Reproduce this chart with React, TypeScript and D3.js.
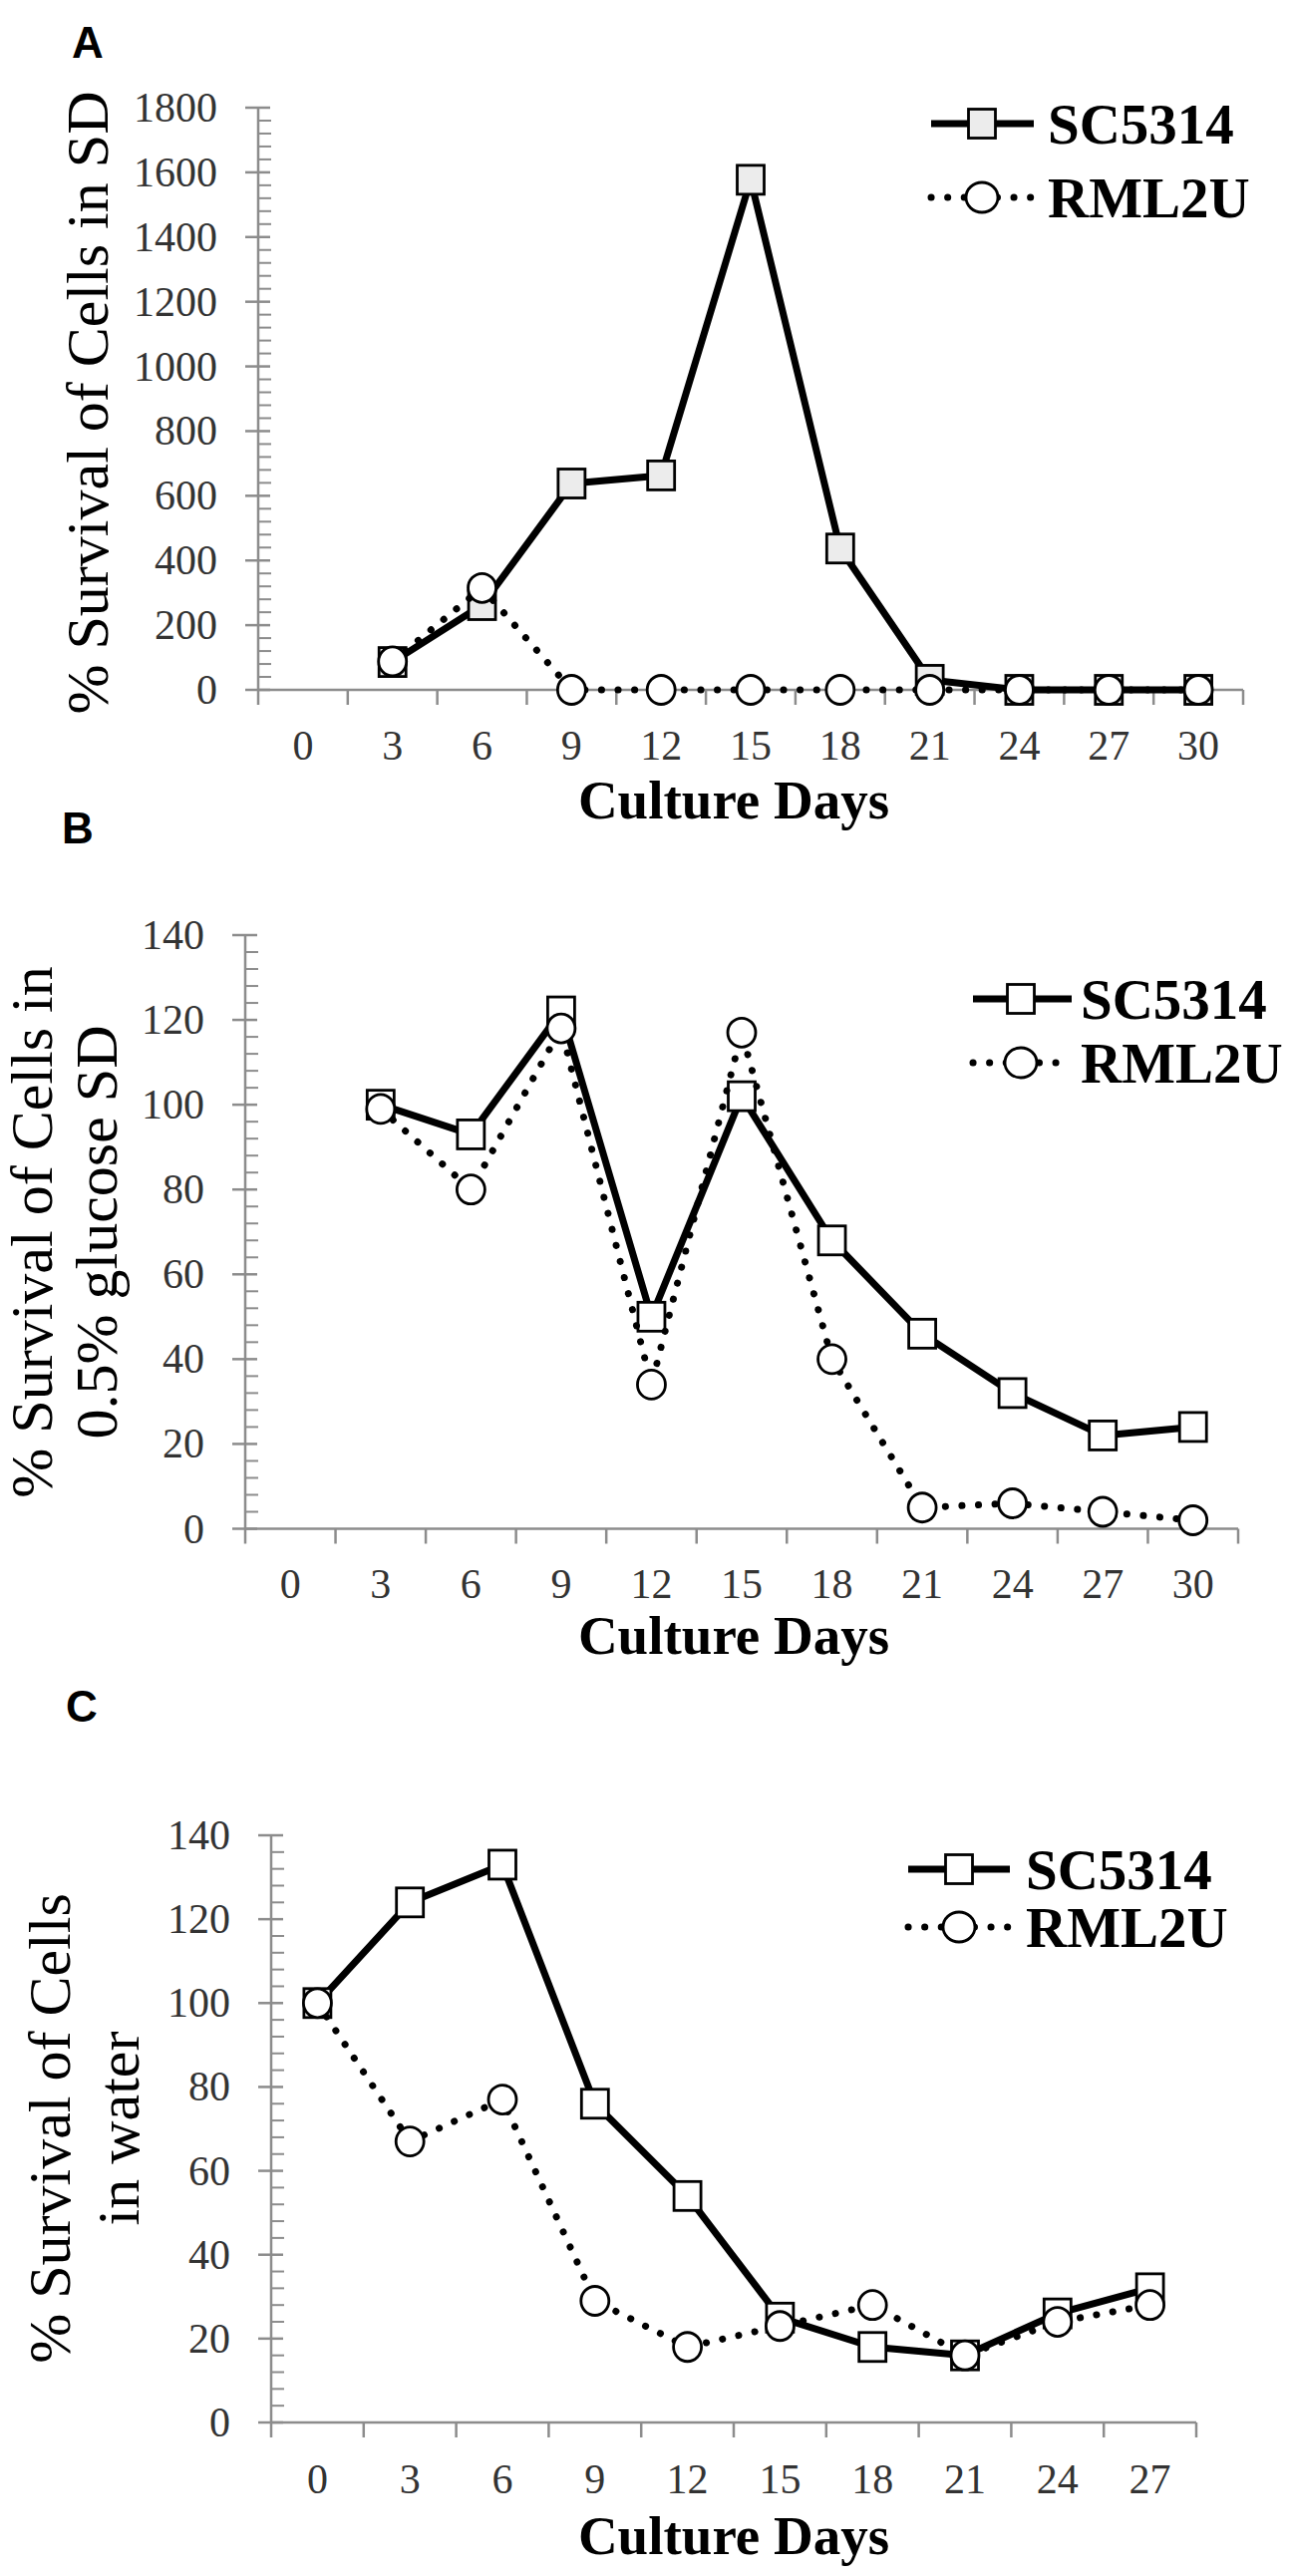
import React from 'react';
import * as d3 from 'd3';

// ---------- data ----------
const DAYS_AB = ['0', '3', '6', '9', '12', '15', '18', '21', '24', '27', '30'];
const DAYS_C = ['0', '3', '6', '9', '12', '15', '18', '21', '24', '27'];

const SC5314_A: (number | null)[] = [null, 86, 262, 638, 663, 1577, 437, 31, 0, 0, 0];
const RML2U_A: (number | null)[] = [null, 88, 315, 0, 0, 0, 0, 0, 0, 0, 0];

const SC5314_B: (number | null)[] = [null, 100, 93, 122, 50, 102, 68, 46, 32, 22, 24];
const RML2U_B: (number | null)[] = [null, 99, 80, 118, 34, 117, 40, 5, 6, 4, 2];

const SC5314_C: (number | null)[] = [100, 124, 133, 76, 54, 25, 18, 16, 26, 32];
const RML2U_C: (number | null)[] = [100, 67, 77, 29, 18, 23, 28, 16, 24, 28];

const Y_TICKS_A = [0, 200, 400, 600, 800, 1000, 1200, 1400, 1600, 1800];
const Y_TICKS_BC = [0, 20, 40, 60, 80, 100, 120, 140];

const SERIES_NAMES = ['SC5314', 'RML2U'];
const PANEL_LETTERS = ['A', 'B', 'C'];
const Y_TITLE_A = ['% Survival of Cells in SD'];
const Y_TITLE_B = ['% Survival of Cells in', '0.5% glucose SD'];
const Y_TITLE_C = ['% Survival of Cells', 'in water'];
const X_TITLE = 'Culture Days';

// ---------- styles ----------
const SERIF = '"Liberation Serif", "Times New Roman", serif';
const SANS = '"Liberation Sans", Arial, sans-serif';
const AXIS_COLOR = '#8c8c8c';
const TICK_TEXT = '#333';
const DOTS = '0.1 16.5';

type Layout = {
  x0: number; x1: number; yTop: number; yBottom: number;
  tickLabelY: number; xTitleY: number;
  yTitleXs: number[]; yTitleCY: number;
  letterX: number; letterY: number;
  legY: number[]; legLine: [number, number]; legMarkX: number; legTextX: number;
  squareFill: string;
};

function Panel({ letter, days, sc, rm, yTicks, minorStep, yTitle, L }: {
  letter: string; days: string[]; sc: (number | null)[]; rm: (number | null)[];
  yTicks: number[]; minorStep: number; yTitle: string[]; L: Layout;
}) {
  const x = d3.scaleBand<string>().domain(days).range([L.x0, L.x1]).padding(0);
  const yMax = yTicks[yTicks.length - 1];
  const y = d3.scaleLinear().domain([0, yMax]).range([L.yBottom, L.yTop]);
  const cx = (i: number) => (x(days[i]) as number) + x.bandwidth() / 2;

  const minors = d3.range(0, yMax + 1e-9, minorStep).filter(v => !yTicks.some(t => Math.abs(t - v) < 1e-9));
  const bounds = days.map(d => x(d) as number).concat([L.x1]);

  const mk = (vals: (number | null)[]) =>
    d3.line<number | null>()
      .defined(v => v != null)
      .x((_, i) => cx(i))
      .y(v => y(v as number))(vals) as string;

  const sw = 27, sh = 29;
  return (
    <g>
      <text x={L.letterX} y={L.letterY} fontFamily={SANS} fontWeight={700} fontSize={44} fill="#000">{letter}</text>
      {/* y axis */}
      <line x1={L.x0} x2={L.x0} y1={L.yTop} y2={L.yBottom} stroke={AXIS_COLOR} strokeWidth={2.5} />
      {minors.map(v => (
        <line key={'m' + v} x1={L.x0} x2={L.x0 + 13} y1={y(v)} y2={y(v)} stroke={AXIS_COLOR} strokeWidth={2} />
      ))}
      {yTicks.map(v => (
        <g key={'t' + v}>
          <line x1={L.x0 - 13} x2={L.x0 + 12} y1={y(v)} y2={y(v)} stroke={AXIS_COLOR} strokeWidth={2.5} />
          <text x={L.x0 - 41} y={y(v)} textAnchor="end" dominantBaseline="central" fontFamily={SERIF} fontSize={42} fill={TICK_TEXT}>{v}</text>
        </g>
      ))}
      {/* x axis */}
      <line x1={L.x0} x2={L.x1} y1={L.yBottom} y2={L.yBottom} stroke={AXIS_COLOR} strokeWidth={2.5} />
      {bounds.map((b, i) => (
        <line key={'xb' + i} x1={b} x2={b} y1={L.yBottom} y2={L.yBottom + 15} stroke={AXIS_COLOR} strokeWidth={2.5} />
      ))}
      {days.map((d, i) => (
        <text key={'xl' + d} x={cx(i)} y={L.tickLabelY} textAnchor="middle" dominantBaseline="central" fontFamily={SERIF} fontSize={42} fill={TICK_TEXT}>{d}</text>
      ))}
      <text x={736} y={L.xTitleY} textAnchor="middle" dominantBaseline="central" fontFamily={SERIF} fontWeight={700} fontSize={55} fill="#000">{X_TITLE}</text>
      {/* y title */}
      {yTitle.map((t, i) => (
        <text key={'yt' + i} transform={`translate(${L.yTitleXs[i]},${L.yTitleCY}) rotate(-90)`} textAnchor="middle" fontFamily={SERIF} fontSize={60} fill="#000">{t}</text>
      ))}
      {/* series */}
      <path d={mk(sc)} fill="none" stroke="#000" strokeWidth={7} strokeLinejoin="round" />
      {sc.map((v, i) => v == null ? null : (
        <rect key={'s' + i} x={cx(i) - sw / 2} y={y(v) - sh / 2} width={sw} height={sh} fill={L.squareFill} stroke="#000" strokeWidth={2.8} />
      ))}
      <path d={mk(rm)} fill="none" stroke="#000" strokeWidth={7} strokeLinecap="round" strokeDasharray={DOTS} />
      {rm.map((v, i) => v == null ? null : (
        <ellipse key={'r' + i} cx={cx(i)} cy={y(v)} rx={14} ry={14.5} fill="#fff" stroke="#000" strokeWidth={2.8} />
      ))}
      {/* legend */}
      <line x1={L.legLine[0]} x2={L.legLine[1]} y1={L.legY[0]} y2={L.legY[0]} stroke="#000" strokeWidth={7} />
      <rect x={L.legMarkX - sw / 2} y={L.legY[0] - sh / 2} width={sw} height={sh} fill={L.squareFill} stroke="#000" strokeWidth={2.8} />
      <text x={L.legTextX} y={L.legY[0]} dominantBaseline="central" fontFamily={SERIF} fontWeight={700} fontSize={57} fill="#000">{SERIES_NAMES[0]}</text>
      <line x1={L.legLine[0]} x2={L.legLine[1]} y1={L.legY[1]} y2={L.legY[1]} stroke="#000" strokeWidth={7} strokeLinecap="round" strokeDasharray={DOTS} />
      <ellipse cx={L.legMarkX} cy={L.legY[1]} rx={16} ry={15} fill="#fff" stroke="#000" strokeWidth={2.8} />
      <text x={L.legTextX} y={L.legY[1]} dominantBaseline="central" fontFamily={SERIF} fontWeight={700} fontSize={57} fill="#000">{SERIES_NAMES[1]}</text>
    </g>
  );
}

const LAYOUT_A: Layout = {
  x0: 259, x1: 1247, yTop: 108, yBottom: 692, tickLabelY: 748, xTitleY: 802,
  yTitleXs: [108], yTitleCY: 404, letterX: 72, letterY: 58,
  legY: [124, 198], legLine: [934, 1037], legMarkX: 985, legTextX: 1051, squareFill: '#ececec',
};
const LAYOUT_B: Layout = {
  x0: 246, x1: 1242, yTop: 938, yBottom: 1533.5, tickLabelY: 1589, xTitleY: 1640,
  yTitleXs: [52, 117], yTitleCY: 1236, letterX: 62, letterY: 846,
  legY: [1002, 1066], legLine: [976, 1075], legMarkX: 1024, legTextX: 1084, squareFill: '#fff',
};
const LAYOUT_C: Layout = {
  x0: 272, x1: 1200, yTop: 1841, yBottom: 2430, tickLabelY: 2487, xTitleY: 2543,
  yTitleXs: [70, 139], yTitleCY: 2135, letterX: 66, letterY: 1727,
  legY: [1875, 1933], legLine: [911, 1013], legMarkX: 962, legTextX: 1029, squareFill: '#fff',
};

export default function App() {
  return (
    <svg width={1293} height={2584} viewBox="0 0 1293 2584"
      style={{ position: 'absolute', left: 0, top: 0, background: '#fff', display: 'block' }}>
      <rect x={0} y={0} width={1293} height={2584} fill="#fff" />
      <Panel letter={PANEL_LETTERS[0]} days={DAYS_AB} sc={SC5314_A} rm={RML2U_A} yTicks={Y_TICKS_A} minorStep={40} yTitle={Y_TITLE_A} L={LAYOUT_A} />
      <Panel letter={PANEL_LETTERS[1]} days={DAYS_AB} sc={SC5314_B} rm={RML2U_B} yTicks={Y_TICKS_BC} minorStep={4} yTitle={Y_TITLE_B} L={LAYOUT_B} />
      <Panel letter={PANEL_LETTERS[2]} days={DAYS_C} sc={SC5314_C} rm={RML2U_C} yTicks={Y_TICKS_BC} minorStep={4} yTitle={Y_TITLE_C} L={LAYOUT_C} />
    </svg>
  );
}
